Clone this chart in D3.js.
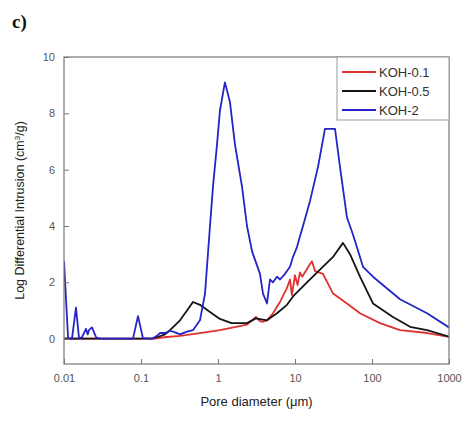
<!DOCTYPE html>
<html><head><meta charset="utf-8">
<script src="https://cdn.jsdelivr.net/npm/d3@7"></script>
<style>body{margin:0;background:#fff;}svg{display:block;}</style>
</head><body>
<script>
// Data: [pore diameter (µm), log differential intrusion (cm³/g)]
const seriesNames = ["KOH-0.1", "KOH-0.5", "KOH-2"];
const seriesColors = ["#e03030", "#151515", "#2424c8"];

const koh01 = [[0.01,0],[0.15,0],[0.2,0.05],[0.321,0.1],[0.583,0.2],[1.06,0.3],[2.38,0.5],[2.77,0.65],[3.1,0.77],[3.5,0.62],[3.84,0.6],[4.33,0.65],[5.18,0.9],[6.38,1.3],[7.87,1.8],[8.61,2.1],[9.1,1.55],[10.0,2.25],[10.8,1.9],[11.6,2.35],[12.4,2.2],[15.7,2.65],[16.6,2.75],[18.2,2.4],[23.1,2.3],[31.2,1.6],[47.3,1.25],[69.8,0.9],[127,0.55],[231,0.3],[518,0.2],[1000,0.06]];

const koh05 = [[0.01,0],[0.14,0],[0.161,0.05],[0.205,0.15],[0.238,0.3],[0.321,0.65],[0.396,1.0],[0.473,1.3],[0.583,1.2],[0.787,0.95],[1.06,0.7],[1.5,0.55],[2.38,0.55],[3.1,0.72],[4.33,0.65],[5.83,0.9],[7.87,1.2],[9.42,1.5],[14.3,2.0],[21.1,2.45],[31.2,2.9],[42.0,3.4],[51.8,3.0],[69.8,2.2],[103,1.25],[187,0.77],[312,0.42],[518,0.3],[1000,0.07]];

const koh2 = [[0.01,2.75],[0.0113,0.02],[0.0127,0.0],[0.0143,1.1],[0.0157,0.0],[0.0171,0.05],[0.0193,0.35],[0.0203,0.15],[0.0211,0.3],[0.0231,0.4],[0.0261,0.05],[0.0294,0.0],[0.0787,0.0],[0.0914,0.8],[0.106,0.02],[0.14,0.0],[0.161,0.1],[0.177,0.2],[0.205,0.2],[0.238,0.28],[0.277,0.22],[0.321,0.15],[0.396,0.25],[0.473,0.3],[0.583,0.65],[0.678,1.6],[0.787,4.0],[0.861,5.4],[0.971,6.9],[1.06,8.1],[1.23,9.1],[1.43,8.4],[1.66,6.9],[2.05,5.4],[2.38,4.0],[2.77,3.1],[3.51,2.3],[3.84,1.6],[4.33,1.25],[4.73,2.1],[5.18,2.0],[5.83,2.2],[6.38,2.1],[7.41,2.3],[7.87,2.4],[8.61,2.55],[9.42,2.9],[10.6,3.25],[12.7,4.0],[15.7,4.9],[19.9,6.1],[24.5,7.45],[33.1,7.45],[38.4,6.1],[47.3,4.3],[56.6,3.7],[76.4,2.55],[103,2.2],[231,1.4],[518,0.9],[1000,0.4]];

const xTicks = [0.01, 0.1, 1, 10, 100, 1000];
const xTickLabels = ["0.01", "0.1", "1", "10", "100", "1000"];
const yTicks = [0, 2, 4, 6, 8, 10];

const W = 464, H = 424;
const m = {left: 64, right: 15, top: 57, bottom: 60};
const svg = d3.select("body").append("svg").attr("width", W).attr("height", H);

const x = d3.scaleLog().domain([0.01, 1000]).range([m.left, W - m.right]);
const y = d3.scaleLinear().domain([-0.9, 10]).range([H - m.bottom, m.top]);

const font = "Liberation Sans, Arial, sans-serif";

// clip
svg.append("clipPath").attr("id", "clip").append("rect")
  .attr("x", m.left).attr("y", m.top).attr("width", W - m.left - m.right).attr("height", H - m.top - m.bottom);

const line = d3.line().x(d => x(d[0])).y(d => y(d[1]));
const allSeries = [koh01, koh05, koh2];
const g = svg.append("g").attr("clip-path", "url(#clip)");
// draw order: red, black, blue (blue on top)
[0, 1, 2].forEach(i => {
  g.append("path").datum(allSeries[i]).attr("d", line)
    .attr("fill", "none").attr("stroke", seriesColors[i]).attr("stroke-width", 1.8)
    .attr("stroke-linejoin", "round");
});

// axes with inward ticks
const xAxis = d3.axisBottom(x).tickValues(xTicks).tickFormat((d, i) => xTickLabels[i]).tickSizeInner(-5).tickSizeOuter(0).tickPadding(10);
const yAxis = d3.axisLeft(y).tickValues(yTicks).tickSizeInner(-5).tickSizeOuter(0).tickPadding(9);

const gx = svg.append("g").attr("transform", `translate(0,${H - m.bottom})`).call(xAxis);
const gy = svg.append("g").attr("transform", `translate(${m.left},0)`).call(yAxis);
[gx, gy].forEach(a => {
  a.select(".domain").remove();
  a.selectAll(".tick line").attr("stroke", "#777");
  a.selectAll(".tick text").attr("fill", "#555").style("font-family", font).style("font-size", "11px");
});

// frame
svg.append("rect").attr("x", m.left).attr("y", m.top)
  .attr("width", W - m.left - m.right).attr("height", H - m.top - m.bottom)
  .attr("fill", "none").attr("stroke", "#777").attr("stroke-width", 1.2);

// legend
const lg = svg.append("g");
lg.append("rect").attr("x", 337).attr("y", m.top).attr("width", W - m.right - 337).attr("height", 63)
  .attr("fill", "#fff").attr("stroke", "#999").attr("stroke-width", 1);
seriesNames.forEach((n, i) => {
  const yy = 72 + i * 19;
  lg.append("line").attr("x1", 342).attr("x2", 376).attr("y1", yy).attr("y2", yy)
    .attr("stroke", seriesColors[i]).attr("stroke-width", 1.8);
  lg.append("text").attr("x", 379).attr("y", yy + 4.5).text(n)
    .style("font-family", font).style("font-size", "13px").attr("fill", "#333");
});

// axis labels
svg.append("text").attr("x", (m.left + W - m.right) / 2).attr("y", 406).attr("text-anchor", "middle")
  .style("font-family", font).style("font-size", "13px").attr("fill", "#222").text("Pore diameter (μm)");
svg.append("text").attr("transform", `translate(24,${(m.top + H - m.bottom) / 2}) rotate(-90)`).attr("text-anchor", "middle")
  .style("font-family", font).style("font-size", "12.5px").attr("fill", "#222")
  .html('Log Differential Intrusion (cm<tspan baseline-shift="super" font-size="8px">3</tspan>/g)');

// panel label
svg.append("text").attr("x", 12).attr("y", 28)
  .style("font-family", "Liberation Serif, Times New Roman, serif").style("font-size", "19px").style("font-weight", "bold")
  .attr("fill", "#111").text("c)");
</script>
</body></html>
